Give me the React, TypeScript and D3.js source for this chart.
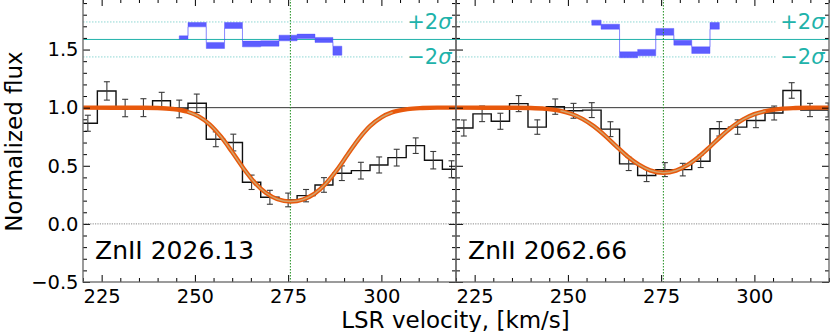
import React, { useEffect, useRef } from 'react';
import * as d3 from 'd3';

// ZnII 2026.13 (left panel)
const VEL_2026 = [216.4, 221.3, 226.4, 231.3, 236.2, 241.1, 245.8, 250.5, 255.6, 260.3, 265.2, 270.1, 275.0, 279.8, 284.6, 289.4, 294.5, 299.4, 304.1, 309.2, 313.9, 318.8, 323.7];
const FLUX_2026 = [0.70, 0.866, 1.144, 0.997, 1.0, 1.06, 0.989, 1.038, 0.728, 0.70, 0.358, 0.229, 0.206, 0.243, 0.335, 0.436, 0.458, 0.507, 0.57, 0.673, 0.548, 0.47, 0.46];
const ERR_2026 = [0.07, 0.069, 0.079, 0.075, 0.077, 0.072, 0.076, 0.079, 0.064, 0.072, 0.062, 0.06, 0.059, 0.053, 0.063, 0.063, 0.072, 0.069, 0.072, 0.067, 0.075, 0.073, 0.07];
const RES_VEL_2026 = [245.8, 250.5, 255.6, 260.3, 265.2, 270.1, 275.0, 279.8, 284.6, 289.4];
const RES_LO_2026 = [0.03, 1.44, -1.03, 1.26, -0.85, -0.77, -0.16, 0.11, -0.34, -1.81];
const RES_HI_2026 = [0.41, 1.94, -0.34, 1.94, -0.19, -0.16, 0.49, 0.61, 0.23, -0.77];
const MODEL_VEL_2026 = [220, 236, 240, 244, 248, 251, 254, 257, 260, 263, 266, 269, 272, 275.7, 279, 282, 285, 288, 291, 294, 297, 300, 303, 307, 311, 315, 320];
const MODEL_FLUX_2026 = [1.0, 0.999, 0.997, 0.989, 0.965, 0.925, 0.855, 0.75, 0.618, 0.479, 0.357, 0.268, 0.214, 0.192, 0.21, 0.258, 0.343, 0.461, 0.599, 0.734, 0.843, 0.917, 0.961, 0.988, 0.997, 1.0, 1.0];

// ZnII 2062.66 (right panel)
const VEL_2062 = [217.2, 222.1, 227.0, 231.9, 236.8, 241.8, 246.6, 251.5, 256.4, 261.4, 266.3, 271.1, 276.0, 280.8, 285.6, 290.6, 295.5, 300.4, 305.3, 310.0, 314.9, 319.8];
const FLUX_2062 = [0.85, 0.825, 0.947, 0.883, 1.035, 0.833, 1.009, 0.973, 0.979, 0.815, 0.516, 0.417, 0.467, 0.467, 0.539, 0.818, 0.833, 0.89, 0.954, 1.148, 0.98, 0.98];
const ERR_2062 = [0.07, 0.069, 0.067, 0.069, 0.069, 0.062, 0.066, 0.064, 0.064, 0.064, 0.057, 0.053, 0.06, 0.054, 0.054, 0.062, 0.062, 0.062, 0.06, 0.067, 0.057, 0.06];
const RES_VEL_2062 = [256.4, 261.4, 266.3, 271.1, 276.0, 280.8, 285.6, 290.6];
const RES_LO_2062 = [1.63, 1.17, -2.1, -1.87, 0.49, -0.65, -1.6, 1.18];
const RES_HI_2062 = [2.21, 1.74, -1.42, -1.14, 1.26, -0.08, -0.85, 1.94];
const MODEL_VEL_2062 = [220, 236, 240, 244, 248, 251, 254, 257, 260, 263, 266, 269, 272, 275.6, 279, 282, 285, 288, 291, 294, 297, 300, 303, 307, 311, 315, 320];
const MODEL_FLUX_2062 = [1.0, 0.999, 0.997, 0.99, 0.973, 0.946, 0.902, 0.839, 0.758, 0.667, 0.58, 0.509, 0.461, 0.44, 0.459, 0.505, 0.575, 0.661, 0.752, 0.834, 0.899, 0.944, 0.971, 0.99, 0.997, 1.0, 1.0];

const LINE_LABELS = ['ZnII 2026.13', 'ZnII 2062.66'];
const V_CENTER = 275.6;
const X_DOMAIN = [220, 320];
const Y_DOMAIN = [-0.5, 1.935];
const X_TICKS = [225, 250, 275, 300];
const Y_TICKS = [-0.5, 0.0, 0.5, 1.0, 1.5];
const RES_CENTER = 1.587;
const RES_SIGMA = 0.0752;
const SIGMA_LINE_END = 306;

const zip = (vel, flux, err) => vel.map((v, i) => ({ v, f: flux[i], e: err[i] }));

const PANELS = [
  {
    label: LINE_LABELS[0],
    data: zip(VEL_2026, FLUX_2026, ERR_2026),
    res: RES_VEL_2026.map((v, i) => ({ v, lo: RES_LO_2026[i], hi: RES_HI_2026[i] })),
    model: MODEL_VEL_2026.map((v, i) => ({ v, f: MODEL_FLUX_2026[i] })),
    showY: true,
  },
  {
    label: LINE_LABELS[1],
    data: zip(VEL_2062, FLUX_2062, ERR_2062),
    res: RES_VEL_2062.map((v, i) => ({ v, lo: RES_LO_2062[i], hi: RES_HI_2062[i] })),
    model: MODEL_VEL_2062.map((v, i) => ({ v, f: MODEL_FLUX_2062[i] })),
    showY: false,
  },
];

const FONT = 'DejaVu Sans, sans-serif';
const TEAL = '#20b2aa';

const App = () => {
  const svgRef = useRef(null);

  useEffect(() => {
    const width = 830, height = 332;
    const panelLefts = [83, 456];
    const panelW = 373;
    const top = -1, bottom = 282;

    const svg = d3.select(svgRef.current);
    svg.selectAll('*').remove();
    svg.attr('width', width).attr('height', height);

    const y = d3.scaleLinear().domain(Y_DOMAIN).range([bottom, top]);
    const resY = r => y(RES_CENTER + r * RES_SIGMA);
    const x = d3.scaleLinear().domain(X_DOMAIN).range([0, panelW]);

    const defs = svg.append('defs');

    PANELS.forEach((p, k) => {
      defs.append('clipPath').attr('id', `clip-${k}`)
        .append('rect')
        .attr('x', 0).attr('y', top)
        .attr('width', panelW).attr('height', bottom - top);

      const g = svg.append('g').attr('transform', `translate(${panelLefts[k]},0)`);
      const plot = g.append('g').attr('clip-path', `url(#clip-${k})`);

      // reference lines
      plot.append('line')
        .attr('x1', 0).attr('x2', panelW)
        .attr('y1', y(0)).attr('y2', y(0))
        .attr('stroke', '#888').attr('stroke-width', 1).attr('stroke-dasharray', '1.2,1.2');
      plot.append('line')
        .attr('x1', 0).attr('x2', panelW)
        .attr('y1', y(1)).attr('y2', y(1))
        .attr('stroke', '#333').attr('stroke-width', 1);

      // residual reference lines
      plot.append('line')
        .attr('x1', 0).attr('x2', panelW)
        .attr('y1', resY(0)).attr('y2', resY(0))
        .attr('stroke', TEAL).attr('stroke-width', 1);
      [-2, 2].forEach(s => {
        plot.append('line')
          .attr('x1', x(X_DOMAIN[0])).attr('x2', x(SIGMA_LINE_END))
          .attr('y1', resY(s)).attr('y2', resY(s))
          .attr('stroke', TEAL).attr('stroke-opacity', 0.5)
          .attr('stroke-width', 1).attr('stroke-dasharray', '1.5,1.5');
      });

      // residuals
      const resArea = d3.area()
        .x(d => x(d.v))
        .y0(d => resY(d.lo))
        .y1(d => resY(d.hi))
        .curve(d3.curveStep);
      plot.append('path')
        .datum(p.res)
        .attr('d', resArea)
        .attr('fill', '#4b4bff')
        .attr('fill-opacity', 0.9)
        .attr('stroke', '#4b4bff')
        .attr('stroke-opacity', 0.4)
        .attr('stroke-width', 1);

      // spectrum
      const step = d3.line().x(d => x(d.v)).y(d => y(d.f)).curve(d3.curveStep);
      plot.append('path')
        .datum(p.data)
        .attr('d', step)
        .attr('fill', 'none')
        .attr('stroke', '#111')
        .attr('stroke-width', 1.4);

      const eb = plot.append('g').attr('stroke', '#3a3a3a').attr('stroke-width', 1.1);
      p.data.forEach(d => {
        const cx = x(d.v);
        eb.append('line').attr('x1', cx).attr('x2', cx).attr('y1', y(d.f - d.e)).attr('y2', y(d.f + d.e));
        eb.append('line').attr('x1', cx - 3).attr('x2', cx + 3).attr('y1', y(d.f - d.e)).attr('y2', y(d.f - d.e));
        eb.append('line').attr('x1', cx - 3).attr('x2', cx + 3).attr('y1', y(d.f + d.e)).attr('y2', y(d.f + d.e));
      });

      // line centre
      plot.append('line')
        .attr('x1', x(V_CENTER)).attr('x2', x(V_CENTER))
        .attr('y1', top).attr('y2', bottom)
        .attr('stroke', '#1f8f1f').attr('stroke-width', 1).attr('stroke-dasharray', '1.5,1.5');

      // model
      const modelLine = d3.line().x(d => x(d.v)).y(d => y(d.f)).curve(d3.curveMonotoneX);
      plot.append('path')
        .datum(p.model)
        .attr('d', modelLine)
        .attr('fill', 'none')
        .attr('stroke', '#e8590c')
        .attr('stroke-width', 4.4)
        .attr('stroke-linejoin', 'round');
      plot.append('path')
        .datum(p.model.filter(d => d.f < 0.985))
        .attr('d', modelLine)
        .attr('fill', 'none')
        .attr('stroke', '#d3a36c')
        .attr('stroke-width', 1.5);

      // labels
      g.append('text')
        .attr('x', 12).attr('y', 259.3)
        .attr('font-family', FONT).attr('font-size', 25)
        .text(p.label);

      [[2, '+2'], [-2, '\u22122']].forEach(([s, t]) => {
        const txt = g.append('text')
          .attr('x', panelW - 4.5).attr('y', resY(s) + 6.8)
          .attr('text-anchor', 'end')
          .attr('font-family', FONT).attr('font-size', 21)
          .attr('fill', TEAL);
        txt.append('tspan').text(t);
        txt.append('tspan').attr('font-style', 'italic').text('\u03c3');
      });

      // axes (ticks point inward)
      const styleAxis = sel => {
        sel.select('.domain').remove();
        sel.selectAll('.tick line').attr('stroke', '#000').attr('stroke-width', 1);
        sel.selectAll('.tick text').attr('font-family', FONT).attr('font-size', 19.5).attr('fill', '#000');
      };
      const minorX = d3.range(220, 321, 5).filter(v => !X_TICKS.includes(v));
      const minorY = d3.range(-5, 20).map(v => v / 10).filter(v => !Y_TICKS.includes(v));

      g.append('g').attr('transform', `translate(0,${bottom})`)
        .call(d3.axisBottom(x).tickValues(X_TICKS).tickSize(-7).tickPadding(7).tickFormat(d3.format('d')))
        .call(styleAxis);
      g.append('g').attr('transform', `translate(0,${bottom})`)
        .call(d3.axisBottom(x).tickValues(minorX).tickSize(-4).tickFormat(''))
        .call(styleAxis);
      g.append('g').attr('transform', `translate(0,${top})`)
        .call(d3.axisTop(x).tickValues(X_TICKS).tickSize(-7).tickFormat(''))
        .call(styleAxis);
      g.append('g').attr('transform', `translate(0,${top})`)
        .call(d3.axisTop(x).tickValues(minorX).tickSize(-4).tickFormat(''))
        .call(styleAxis);

      g.append('g')
        .call(d3.axisLeft(y).tickValues(Y_TICKS).tickSize(-7).tickPadding(4.5)
          .tickFormat(p.showY ? d3.format('.1f') : ''))
        .call(styleAxis);
      g.append('g')
        .call(d3.axisLeft(y).tickValues(minorY).tickSize(-4).tickFormat(''))
        .call(styleAxis);
      g.append('g').attr('transform', `translate(${panelW},0)`)
        .call(d3.axisRight(y).tickValues(Y_TICKS).tickSize(-7).tickFormat(''))
        .call(styleAxis);
      g.append('g').attr('transform', `translate(${panelW},0)`)
        .call(d3.axisRight(y).tickValues(minorY).tickSize(-4).tickFormat(''))
        .call(styleAxis);

      // spines
      g.append('rect')
        .attr('x', 0).attr('y', top)
        .attr('width', panelW).attr('height', bottom - top)
        .attr('fill', 'none')
        .attr('stroke', '#666')
        .attr('stroke-width', 1.3);
    });

    svg.append('text')
      .attr('transform', `translate(21.5,141.5) rotate(-90)`)
      .attr('text-anchor', 'middle')
      .attr('font-family', FONT).attr('font-size', 23)
      .text('Normalized flux');

    svg.append('text')
      .attr('x', 455.5).attr('y', 327.5)
      .attr('text-anchor', 'middle')
      .attr('font-family', FONT).attr('font-size', 23)
      .text('LSR velocity, [km/s]');
  }, []);

  return (
    <svg ref={svgRef} style={{ position: 'fixed', left: 0, top: 0, background: '#fff' }}></svg>
  );
};

export default App;
